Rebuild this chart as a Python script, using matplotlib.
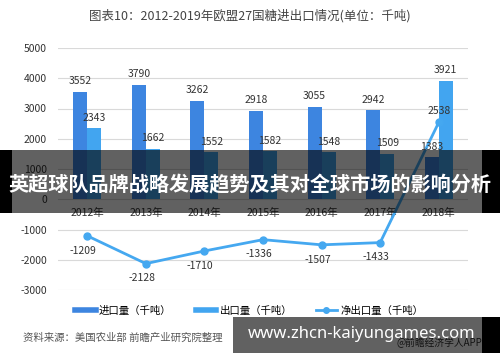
import matplotlib
matplotlib.use("Agg")
import matplotlib.pyplot as plt
from matplotlib.patches import Rectangle
from matplotlib.lines import Line2D
import numpy as np

plt.rcParams['font.family'] = ['Noto Sans CJK SC', 'DejaVu Sans']

years = ["2012年", "2013年", "2014年", "2015年", "2016年", "2017年", "2018年"]
imports = [3552, 3790, 3262, 2918, 3055, 2942, 1383]
exports = [2343, 1662, 1552, 1582, 1548, 1509, 3921]
net = [-1209, -2128, -1710, -1336, -1507, -1433, 2538]
yticks = [-3000, -2000, -1000, 0, 1000, 2000, 3000, 4000, 5000]

c_imp = "#3d85e0"
c_exp = "#42a5f0"
c_net = "#45a8f0"
txt = "#333333"

W, H = 500, 362
fig = plt.figure(figsize=(5, 3.62), dpi=100)
ax = fig.add_axes([58 / W, 1 - 290 / H, 410 / W, 242 / H])
for s in ax.spines.values():
    s.set_visible(False)
ax.spines['bottom'].set_position(('data', 0))

x = np.arange(len(years))
bw = 0.24
ax.bar(x - bw / 2, imports, bw, color=c_imp, zorder=2)
ax.bar(x + bw / 2, exports, bw, color=c_exp, zorder=2)
ax.plot(x, net, color=c_net, lw=2, marker='o', ms=5, zorder=3)

for xi, v in zip(x - bw / 2, imports):
    ax.annotate(str(v), (xi, v), xytext=(0, 4), textcoords='offset points',
                ha='center', va='bottom', fontsize=7.5, color=txt, zorder=4)
for xi, v in zip(x + bw / 2, exports):
    ax.annotate(str(v), (xi, v), xytext=(0, 4), textcoords='offset points',
                ha='center', va='bottom', fontsize=7.5, color=txt, zorder=4)
for i, v in enumerate(net):
    if v < 0:
        ax.annotate(str(v), (x[i], v), xytext=(-3, -7), textcoords='offset points',
                    ha='center', va='top', fontsize=7.5, color=txt, zorder=4)
    else:
        ax.annotate(str(v), (x[i], v), xytext=(0, 5), textcoords='offset points',
                    ha='center', va='bottom', fontsize=7.5, color=txt, zorder=4)

ax.set_xlim(-0.5, len(years) - 0.5)
ax.set_ylim(-3000, 5000)
ax.set_yticks(yticks)
ax.set_yticklabels([str(t) for t in yticks])
ax.set_xticks(x)
ax.set_xticklabels(years)
ax.tick_params(axis='both', length=0, labelsize=7.5, labelcolor=txt)
ax.tick_params(axis='y', pad=8)
ax.tick_params(axis='x', pad=6)
ax.grid(axis='y', color='#d9d9d9', lw=0.8, zorder=0)

fig.text(250 / W, 1 - 16 / H, "图表10：2012-2019年欧盟27国糖进出口情况(单位：千吨)",
         ha='center', va='center', fontsize=9, color='#444444')

handles = [Line2D([], [], color=c_imp, lw=4),
           Line2D([], [], color=c_exp, lw=4),
           Line2D([], [], color=c_net, lw=2, marker='o', ms=4)]
fig.legend(handles, ["进口量（千吨）", "出口量（千吨）", "净出口量（千吨）"],
           loc='center', bbox_to_anchor=(249 / W, 1 - 311 / H), ncol=3, frameon=False,
           fontsize=7.5, handlelength=2.0, handletextpad=0.3, columnspacing=2.3)

fig.text(23 / W, 1 - 338 / H, "资料来源：美国农业部 前瞻产业研究院整理",
         ha='left', va='center', fontsize=7.5, color='#555555')
fig.text(482 / W, 1 - 343 / H, "@前瞻经济学人APP",
         ha='right', va='center', fontsize=7, color='#333333')

# top overlay banner
fig.patches.append(Rectangle((0, 1 - 213 / H), 1, 63 / H, transform=fig.transFigure,
                             facecolor='black', alpha=0.62, zorder=10))
fig.patches.append(Rectangle((0, 1 - 213 / H), 12 / W, 63 / H, transform=fig.transFigure,
                             facecolor='black', zorder=11))
fig.patches.append(Rectangle((482 / W, 1 - 213 / H), 18 / W, 63 / H, transform=fig.transFigure,
                             facecolor='black', zorder=11))
fig.text(250 / W, 1 - 185 / H, "英超球队品牌战略发展趋势及其对全球市场的影响分析",
         ha='center', va='center', fontsize=14.5, fontweight='bold', color='white', zorder=12)

# bottom overlay banner
fig.patches.append(Rectangle((233 / W, 1 - 353 / H), 249 / W, 36 / H, transform=fig.transFigure,
                             facecolor='black', alpha=0.62, zorder=10))
fig.patches.append(Rectangle((482 / W, 1 - 353 / H), 18 / W, 36 / H, transform=fig.transFigure,
                             facecolor='black', zorder=11))
fig.text(362 / W, 1 - 334 / H, "www.zhcn-kaiyungames.com",
         ha='center', va='center', fontsize=12, fontweight='bold', color='white',
         family=['Noto Sans', 'DejaVu Sans'], zorder=12)

fig.savefig("out.png", dpi=100)
